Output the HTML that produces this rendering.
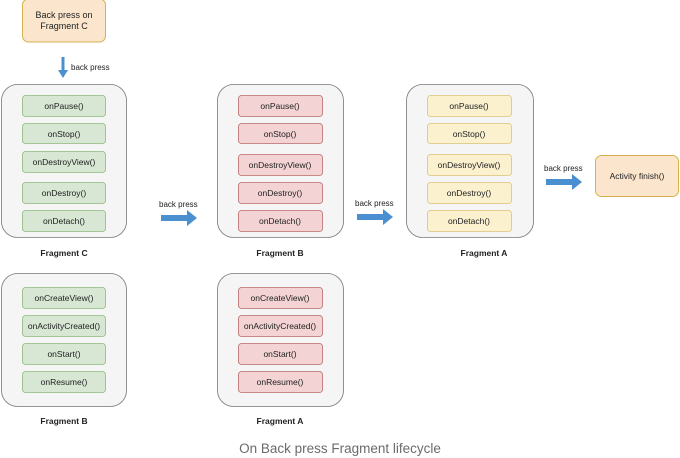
<!DOCTYPE html>
<html><head><style>
html,body{margin:0;padding:0;background:#fff;width:680px;height:458px;overflow:hidden}
svg text{font-family:"Liberation Sans",Arial,sans-serif}
</style></head><body>
<svg width="680" height="458" viewBox="0 0 680 458" xmlns="http://www.w3.org/2000/svg">
<defs>
<g id="rarrow"><path d="M0,-3 H26 V-8 L36,0 L26,8 V3 H0 Z" fill="#4a90d0"/></g>
</defs>
<!-- top box -->
<rect x="22.5" y="-1" width="83" height="43" rx="6" fill="#fbe6cd" stroke="#d7b24a" stroke-width="1"/>
<text x="64" y="18" font-size="9" text-anchor="middle" fill="#222">Back press on</text>
<text x="64" y="29" font-size="9" text-anchor="middle" fill="#222">Fragment C</text>
<path d="M61.5,57 H64.5 V70 H68 L63,78 L58,70 H61.5 Z" fill="#4a90d0"/>
<text x="71" y="70" font-size="8" fill="#222">back press</text>

<!-- containers -->
<g fill="#f5f5f5" stroke="#777" stroke-width="0.8">
<rect x="1.5" y="84.5" width="125" height="153" rx="16"/>
<rect x="217.5" y="84.5" width="126" height="153" rx="16"/>
<rect x="406.5" y="84.5" width="127" height="153" rx="16"/>
<rect x="1.5" y="273.5" width="125" height="133" rx="16"/>
<rect x="217.5" y="273.5" width="126" height="133" rx="16"/>
</g>

<!-- Fragment C top -->
<g fill="#d7e7d3" stroke="#8fb87f" stroke-width="0.8">
<rect x="22.5" y="95.5" width="83" height="21" rx="3"/>
<rect x="22.5" y="123.5" width="83" height="20" rx="3"/>
<rect x="22.5" y="151.5" width="83" height="21" rx="3"/>
<rect x="22.5" y="182.5" width="83" height="21" rx="3"/>
<rect x="22.5" y="210.5" width="83" height="21" rx="3"/>
<rect x="22.5" y="287.5" width="83" height="21" rx="3"/>
<rect x="22.5" y="315.5" width="83" height="21" rx="3"/>
<rect x="22.5" y="343.5" width="83" height="21" rx="3"/>
<rect x="22.5" y="371.5" width="83" height="21" rx="3"/>
</g>
<g fill="#f3d3d3" stroke="#b86a6a" stroke-width="0.8">
<rect x="238.5" y="95.5" width="84" height="21" rx="3"/>
<rect x="238.5" y="123.5" width="84" height="20" rx="3"/>
<rect x="238.5" y="154.5" width="84" height="21" rx="3"/>
<rect x="238.5" y="182.5" width="84" height="21" rx="3"/>
<rect x="238.5" y="210.5" width="84" height="21" rx="3"/>
<rect x="238.5" y="287.5" width="84" height="21" rx="3"/>
<rect x="238.5" y="315.5" width="84" height="21" rx="3"/>
<rect x="238.5" y="343.5" width="84" height="21" rx="3"/>
<rect x="238.5" y="371.5" width="84" height="21" rx="3"/>
</g>
<g fill="#fbf1cf" stroke="#d9c27a" stroke-width="0.8">
<rect x="427.5" y="95.5" width="84" height="21" rx="3"/>
<rect x="427.5" y="123.5" width="84" height="20" rx="3"/>
<rect x="427.5" y="154.5" width="84" height="21" rx="3"/>
<rect x="427.5" y="182.5" width="84" height="21" rx="3"/>
<rect x="427.5" y="210.5" width="84" height="21" rx="3"/>
</g>

<g font-size="8.5" text-anchor="middle" fill="#222">
<text x="64" y="109">onPause()</text>
<text x="64" y="137">onStop()</text>
<text x="64" y="165">onDestroyView()</text>
<text x="64" y="196">onDestroy()</text>
<text x="64" y="224">onDetach()</text>
<text x="64" y="301">onCreateView()</text>
<text x="64" y="329">onActivityCreated()</text>
<text x="64" y="357">onStart()</text>
<text x="64" y="385">onResume()</text>

<text x="280" y="109">onPause()</text>
<text x="280" y="137">onStop()</text>
<text x="280" y="168">onDestroyView()</text>
<text x="280" y="196">onDestroy()</text>
<text x="280" y="224">onDetach()</text>
<text x="280" y="301">onCreateView()</text>
<text x="280" y="329">onActivityCreated()</text>
<text x="280" y="357">onStart()</text>
<text x="280" y="385">onResume()</text>

<text x="469" y="109">onPause()</text>
<text x="469" y="137">onStop()</text>
<text x="469" y="168">onDestroyView()</text>
<text x="469" y="196">onDestroy()</text>
<text x="469" y="224">onDetach()</text>
</g>

<g font-size="8.5" font-weight="bold" text-anchor="middle" fill="#222">
<text x="64" y="256">Fragment C</text>
<text x="280" y="256">Fragment B</text>
<text x="484" y="256">Fragment A</text>
<text x="64" y="424">Fragment B</text>
<text x="280" y="424">Fragment A</text>
</g>

<use href="#rarrow" x="161" y="218"/>
<text x="159" y="207" font-size="8" fill="#222">back press</text>
<use href="#rarrow" x="357" y="217"/>
<text x="355" y="206" font-size="8" fill="#222">back press</text>
<use href="#rarrow" x="546" y="182"/>
<text x="544" y="171" font-size="8" fill="#222">back press</text>

<rect x="595.5" y="155.5" width="83" height="41" rx="6" fill="#fbe6cd" stroke="#d7b24a" stroke-width="1"/>
<text x="637" y="179" font-size="8.5" text-anchor="middle" fill="#222">Activity finish()</text>

<text x="340" y="453" font-size="13.5" text-anchor="middle" fill="#6b6b6b">On Back press Fragment lifecycle</text>
</svg>
</body></html>
